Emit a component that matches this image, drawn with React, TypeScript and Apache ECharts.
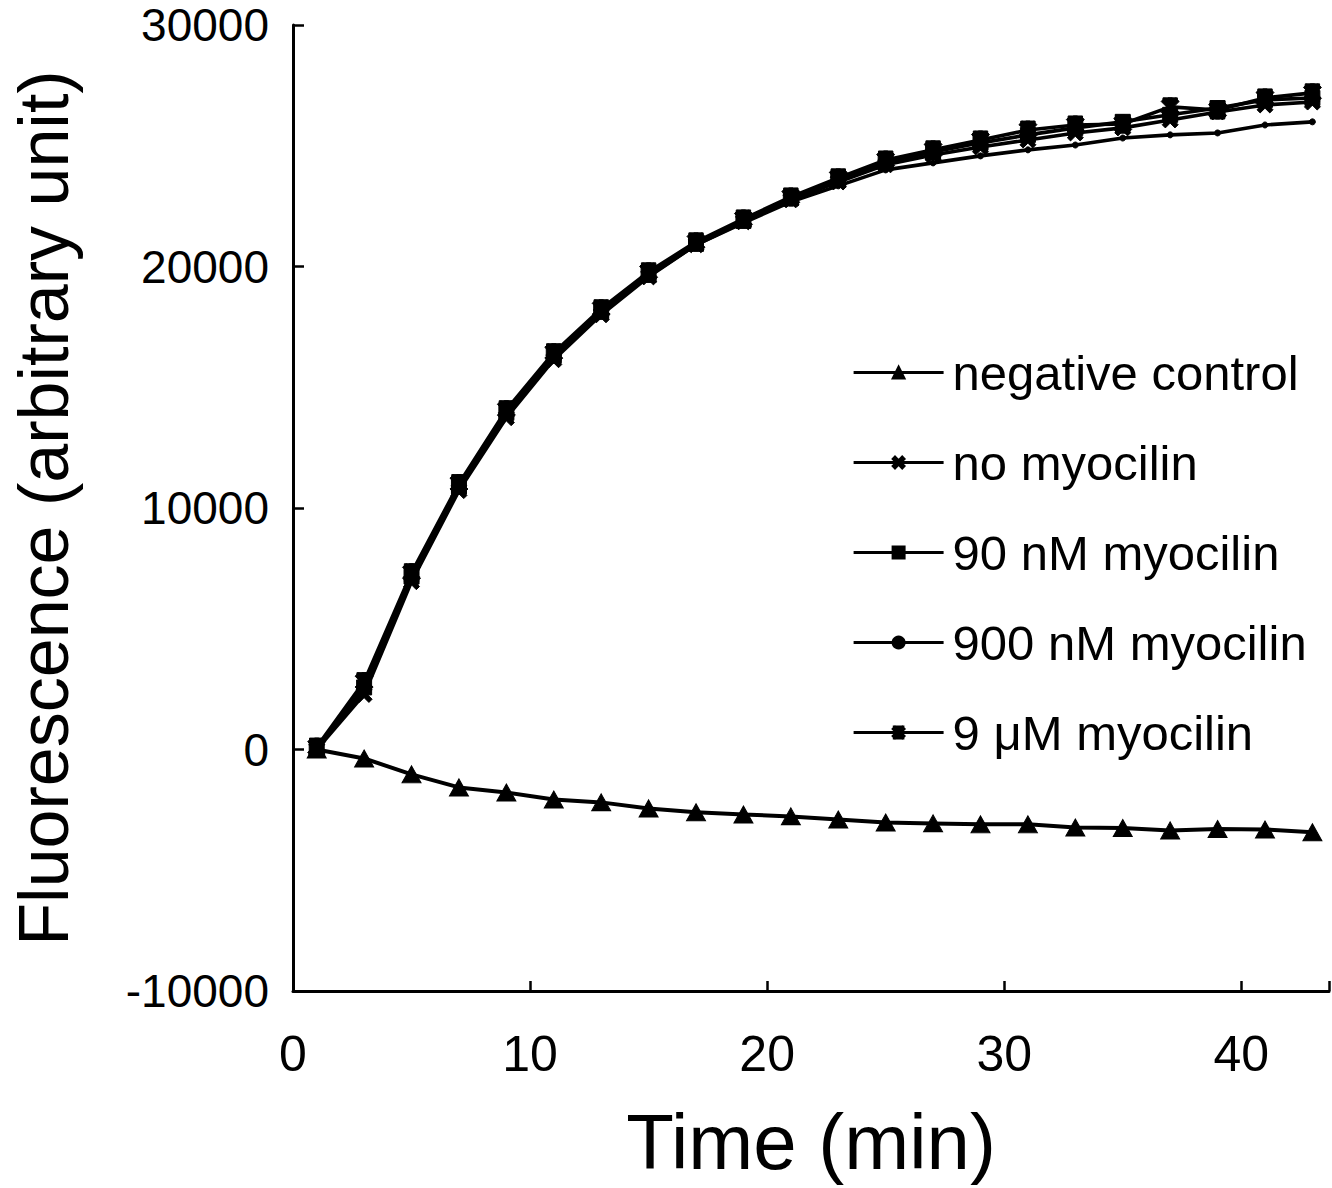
import React, { useEffect, useRef } from "react";
import * as echarts from "echarts";

const times = [1, 3, 5, 7, 9, 11, 13, 15, 17, 19, 21, 23, 25, 27, 29, 31, 33, 35, 37, 39, 41, 43];
const negativeControl = [0, -370, -1030, -1570, -1780, -2070, -2190, -2440, -2600, -2690, -2770, -2900, -3020, -3060, -3100, -3100, -3230, -3250, -3350, -3290, -3310, -3430];
const noMyocilin = [0, 2280, 6950, 10720, 13740, 16140, 18000, 19570, 20900, 21850, 22760, 23500, 24210, 24620, 24950, 25240, 25530, 25740, 26070, 26400, 26690, 26810];
const myocilin90nM = [50, 2570, 7160, 10880, 13940, 16300, 18120, 19650, 20940, 21890, 22840, 23590, 24330, 24740, 25120, 25450, 25740, 25990, 26280, 26560, 26900, 26980];
const myocilin900nM = [0, 2480, 7080, 10800, 13820, 16220, 18040, 19610, 20900, 21810, 22680, 23340, 24000, 24290, 24580, 24830, 25030, 25320, 25450, 25530, 25860, 25990];
const myocilin9uM = [100, 2810, 7320, 11010, 14070, 16430, 18250, 19780, 21020, 21970, 22880, 23670, 24410, 24830, 25240, 25650, 25860, 25900, 26610, 26480, 26980, 27190];

const seriesNames = ["negative control", "no myocilin", "90 nM myocilin", "900 nM myocilin", "9 \u03bcM myocilin"];
const yTicks = [-10000, 0, 10000, 20000, 30000];

const FONT = "'Liberation Sans', Arial, Helvetica, sans-serif";
const CROSS = "path://M2,0 L5,3 L8,0 L10,2 L7,5 L10,8 L8,10 L5,7 L2,10 L0,8 L3,5 L0,2 Z";
const ASTERISK = "path://M2,0 L5,3 L8,0 L10,2 L7,5 L10,8 L8,10 L5,7 L2,10 L0,8 L3,5 L0,2 Z M3.8,0 L6.2,0 L6.2,10 L3.8,10 Z M1,0 L9,0 L9,1.6 L1,1.6 Z M1,8.4 L9,8.4 L9,10 L1,10 Z";

function pairs(vals: number[]) {
  return times.map((t, i) => [t, vals[i]]);
}

export default function App() {
  const ref = useRef<HTMLDivElement>(null);
  useEffect(() => {
    if (!ref.current) return;
    const chart = echarts.init(ref.current, null, { renderer: "svg" });
    const mk = (name: string, vals: number[], symbol: string, size: number | number[], z: number, width: number) => ({
      name,
      type: "line",
      data: pairs(vals),
      symbol,
      symbolSize: size,
      showAllSymbol: true,
      lineStyle: { color: "#000", width },
      itemStyle: { color: "#000", borderColor: "#000", borderWidth: 1 },
      z,
    });
    chart.setOption({
      animation: false,
      backgroundColor: "#fff",
      textStyle: { fontFamily: FONT, color: "#000" },
      grid: { left: 293, right: 2, top: 25, bottom: 197, containLabel: false },
      xAxis: {
        type: "value",
        min: 0,
        max: 43.7,
        interval: 10,
        name: "Time (min)",
        nameLocation: "middle",
        nameGap: 112,
        nameTextStyle: { fontSize: 78, color: "#000", fontFamily: FONT },
        axisLine: { onZero: false, lineStyle: { color: "#000", width: 3 } },
        axisTick: { inside: true, length: 10, lineStyle: { color: "#000", width: 2.5 } },
        axisLabel: {
          fontSize: 50,
          color: "#000",
          margin: 38,
          fontFamily: FONT,
          formatter: (v: number) => (Math.abs(v % 10) < 1e-6 ? String(v) : ""),
        },
        splitLine: { show: false },
      },
      yAxis: {
        type: "value",
        min: yTicks[0],
        max: yTicks[yTicks.length - 1],
        interval: 10000,
        name: "Fluorescence (arbitrary unit)",
        nameLocation: "middle",
        nameGap: 214,
        nameTextStyle: { fontSize: 70, color: "#000", fontFamily: FONT },
        axisLine: { onZero: false, lineStyle: { color: "#000", width: 3 } },
        axisTick: { inside: true, length: 11, lineStyle: { color: "#000", width: 2.5 } },
        axisLabel: {
          fontSize: 46,
          color: "#000",
          margin: 24,
          fontFamily: FONT,
          formatter: (v: number) => String(v),
        },
        splitLine: { show: false },
      },
      legend: {
        orient: "vertical",
        left: 847,
        top: 343,
        itemWidth: 90,
        itemHeight: 15,
        itemGap: 41,
        data: seriesNames,
        lineStyle: { width: 3.2 },
        textStyle: { fontSize: 49, lineHeight: 48, color: "#000", fontFamily: FONT, padding: [0, 0, 0, 4] },
      },
      series: [
        mk(seriesNames[0], negativeControl, "triangle", [19, 17], 5, 4),
        mk(seriesNames[1], noMyocilin, CROSS, 16, 2, 3.6),
        mk(seriesNames[2], myocilin90nM, "rect", 15, 3, 3.6),
        mk(seriesNames[3], myocilin900nM, "circle", 6, 4, 3.6),
        mk(seriesNames[4], myocilin9uM, ASTERISK, 18, 6, 3.6),
      ],
    });
    return () => chart.dispose();
  }, []);
  return (
    <div
      ref={ref}
      style={{ position: "absolute", left: 0, top: 0, width: 1332, height: 1188, background: "#fff" }}
    />
  );
}
